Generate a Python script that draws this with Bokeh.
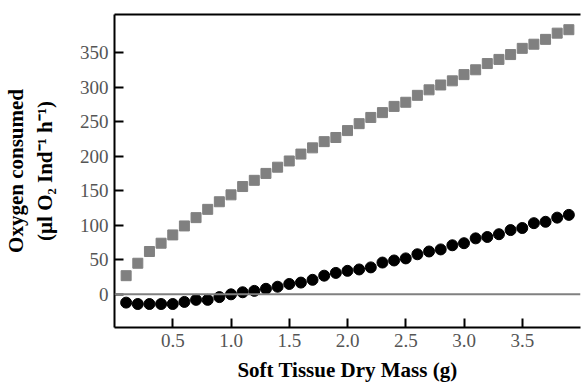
from bokeh.plotting import figure
from bokeh.models import Range1d, FixedTicker, LinearAxis, Span
from bokeh.embed import file_html
from bokeh.resources import INLINE

# Data
mass = [0.1, 0.2, 0.3, 0.4, 0.5, 0.6, 0.7, 0.8, 0.9, 1.0,
        1.1, 1.2, 1.3, 1.4, 1.5, 1.6, 1.7, 1.8, 1.9, 2.0,
        2.1, 2.2, 2.3, 2.4, 2.5, 2.6, 2.7, 2.8, 2.9, 3.0,
        3.1, 3.2, 3.3, 3.4, 3.5, 3.6, 3.7, 3.8, 3.9]
squares = [27, 45, 62, 74, 86, 99, 111, 123, 134, 144,
           156, 165, 175, 184, 193, 203, 212, 221, 227, 237,
           247, 256, 263, 272, 278, 288, 296, 303, 309, 318,
           325, 334, 340, 347, 356, 362, 369, 378, 383]
circles = [-12, -14, -14, -14, -14, -11, -8, -8, -4, 0,
           3, 5, 8, 11, 15, 17, 21, 27, 31, 34,
           36, 39, 46, 49, 52, 58, 62, 65, 71, 74,
           81, 83, 87, 93, 96, 103, 105, 111, 115]
x_ticks = [0.5, 1.0, 1.5, 2.0, 2.5, 3.0, 3.5]
x_tick_labels = ["0.5", "1.0", "1.5", "2.0", "2.5", "3.0", "3.5"]
y_ticks = [0, 50, 100, 150, 200, 250, 300, 350]

FONT = "Liberation Serif"

p = figure(width=581, height=388, output_backend="svg", toolbar_location=None,
           x_range=Range1d(0, 4), y_range=Range1d(-48, 405),
           min_border_left=114, min_border_right=1, min_border_top=14,
           min_border_bottom=61)
p.grid.visible = False
p.outline_line_color = None
p.background_fill_color = "white"
p.border_fill_color = "white"

for ax in (p.xaxis[0], p.yaxis[0]):
    ax.axis_line_width = 2
    ax.axis_line_color = "black"
    ax.major_tick_in = 9
    ax.major_tick_out = 0
    ax.major_tick_line_width = 2
    ax.major_tick_line_color = "black"
    ax.minor_tick_line_color = None
    ax.major_label_text_font = FONT
    ax.major_label_text_font_size = "19px"
    ax.major_label_text_color = "#555555"
    ax.axis_label_text_font = FONT
    ax.axis_label_text_font_size = "21px"
    ax.axis_label_text_font_style = "bold"
    ax.axis_label_text_color = "black"

p.xaxis.ticker = FixedTicker(ticks=x_ticks)
p.xaxis.major_label_overrides = dict(zip(x_ticks, x_tick_labels))
p.xaxis.major_label_standoff = 6
p.xaxis.axis_label = "Soft Tissue Dry Mass (g)"
p.xaxis.axis_label_standoff = 8

p.yaxis.ticker = FixedTicker(ticks=y_ticks)
p.yaxis.major_label_standoff = 6
p.yaxis.axis_label = "Oxygen consumed\n(µl O₂ Ind⁻¹ h⁻¹)"
p.yaxis.axis_label_standoff = 20

top = LinearAxis(axis_line_width=2, axis_line_color="black",
                 major_tick_line_color=None, minor_tick_line_color=None,
                 major_label_text_font_size="0px")
top.ticker = FixedTicker(ticks=[])
p.add_layout(top, "above")

p.add_layout(Span(location=0, dimension="width", line_color="#808080", line_width=2))

p.scatter(mass, squares, marker="square", size=10, color="#808080")
p.scatter(mass, circles, marker="circle", size=11, color="black")

open("out.html", "w").write(file_html(p, INLINE))
